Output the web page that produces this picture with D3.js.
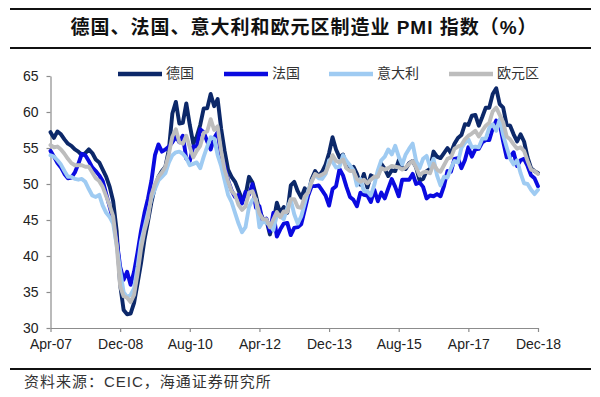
<!DOCTYPE html>
<html>
<head>
<meta charset="utf-8">
<script src="https://cdn.jsdelivr.net/npm/d3@7"></script>
<style>
  body { margin: 0; background: #fff; }
  svg { display: block; }
</style>
</head>
<body>
<svg id="chart" width="600" height="397"></svg>
<script>
// tick labels along the x axis, one every 20 months from Apr-07
const tickLabels = ['Apr-07', 'Dec-08', 'Aug-10', 'Apr-12', 'Dec-13', 'Aug-15', 'Apr-17', 'Dec-18'];
const yTicks = [30, 35, 40, 45, 50, 55, 60, 65];

// monthly PMI, Apr-07 .. Dec-18 (141 months)
const germany = [
  57.2,56.4,57.3,56.9,56.2,55.6,55.3,54.8,54.5,54.0,
  54.3,54.8,54.3,53.4,53.0,52.0,51.0,49.6,47.6,43.5,
  36.0,32.5,31.9,32.0,33.5,36.2,39.0,42.3,44.8,47.5,
  49.6,51.0,51.8,52.4,54.8,59.8,61.4,58.4,58.5,61.2,
  58.2,55.6,56.6,58.2,60.5,60.5,62.5,60.8,61.8,57.7,
  54.6,52.0,51.0,50.3,49.1,47.9,48.4,51.0,50.2,48.4,
  46.2,45.2,45.0,43.0,44.7,47.4,46.0,46.8,46.0,49.8,
  50.3,49.0,48.1,49.4,48.6,50.7,51.8,51.1,51.7,52.7,
  54.3,56.5,54.8,53.7,54.1,52.3,52.0,52.4,51.4,49.9,
  51.4,49.5,51.2,50.9,51.1,52.8,52.1,51.1,51.9,51.8,
  53.3,52.3,52.1,52.9,53.2,52.3,50.5,50.7,51.8,52.1,
  54.5,53.8,53.6,54.3,55.0,54.3,55.6,56.4,56.8,58.3,
  58.2,59.5,59.6,58.1,59.3,60.6,60.6,62.5,63.3,61.1,
  60.6,58.2,58.1,56.9,55.9,56.9,55.9,53.7,52.2,51.8,
  51.5
];
const france = [
  54.6,53.8,52.9,52.3,51.4,50.8,50.9,51.6,52.8,54.2,
  54.0,53.2,52.3,51.8,51.2,50.4,48.6,46.8,45.0,42.3,
  38.5,36.7,37.8,36.0,37.8,40.5,43.5,46.0,48.0,50.5,
  54.0,55.5,54.5,54.8,55.2,55.8,56.6,55.8,56.7,53.5,
  53.2,55.2,55.2,57.6,57.2,55.9,54.8,56.4,57.2,54.0,
  52.5,50.5,49.1,48.2,48.5,47.3,48.9,48.5,50.0,46.7,
  46.9,44.7,45.2,43.4,46.0,42.7,43.7,44.5,44.6,42.9,
  43.9,44.0,44.4,46.4,48.4,49.7,49.7,49.8,49.1,48.4,
  47.0,49.3,49.7,52.1,51.2,49.6,48.2,47.8,46.9,48.8,
  48.5,48.4,47.5,49.2,47.6,48.8,48.0,49.4,50.7,49.6,
  48.3,50.6,50.6,50.6,51.4,50.0,50.2,49.6,48.0,48.4,
  48.3,48.6,48.3,49.7,51.8,51.7,53.5,53.6,52.2,53.3,
  55.1,53.8,54.8,54.9,55.8,56.1,56.1,57.7,58.8,58.4,
  55.9,53.7,53.8,54.4,52.5,53.3,53.5,52.5,51.2,50.8,
  49.7
];
const italy = [
  54.0,53.8,53.3,52.7,51.8,51.0,51.0,50.7,50.6,50.7,
  50.3,49.3,48.4,48.2,48.5,47.0,46.0,45.4,44.5,41.5,
  38.0,35.0,34.3,34.6,35.5,38.5,42.0,44.0,46.0,48.0,
  49.3,50.5,51.0,51.5,53.0,54.0,54.4,54.5,54.2,53.6,
  52.6,52.8,53.0,52.2,53.8,55.2,56.5,56.3,54.0,52.5,
  50.5,48.5,47.5,46.0,44.5,43.3,44.0,46.8,47.8,47.9,
  44.0,44.8,44.6,44.3,43.6,45.7,45.5,45.1,46.7,47.8,
  45.8,44.5,45.5,47.3,49.1,50.4,51.3,50.8,50.7,51.4,
  53.3,53.1,52.3,52.4,54.0,53.2,52.6,51.9,49.8,50.7,
  49.0,49.0,48.4,49.9,51.9,53.3,53.8,54.8,54.1,55.3,
  53.8,52.7,54.1,54.9,55.6,53.2,52.2,53.5,53.9,52.4,
  53.5,51.2,49.8,51.0,50.9,52.2,53.2,53.0,55.0,55.7,
  56.2,55.1,55.2,55.1,56.3,56.3,57.8,58.3,57.4,59.0,
  56.8,55.1,53.5,52.7,53.3,51.5,50.1,50.0,49.2,48.6,
  49.2
];
const eurozone = [
  55.4,55.1,55.2,54.8,54.2,53.5,52.9,52.6,52.6,52.6,
  52.4,52.4,51.6,50.8,50.4,49.6,48.3,47.0,45.5,41.5,
  35.8,34.4,34.2,33.6,34.6,37.5,41.0,43.5,45.3,48.5,
  50.0,51.0,51.6,52.4,54.2,56.6,57.6,55.8,55.6,56.7,
  55.1,53.7,54.6,55.3,57.1,57.3,59.0,57.5,58.0,54.6,
  52.0,50.4,49.0,48.5,47.1,46.4,46.9,48.8,49.0,47.7,
  45.9,45.1,45.1,44.0,45.1,46.1,45.4,46.2,46.1,47.9,
  47.9,46.8,46.7,48.3,48.8,50.3,51.4,51.1,51.3,51.6,
  52.7,54.0,53.2,53.0,53.4,52.2,51.8,51.8,50.7,50.3,
  50.6,50.1,50.6,51.0,51.0,52.2,52.0,52.2,52.5,52.4,
  52.3,52.0,52.3,52.8,53.2,52.3,51.2,51.6,51.7,51.5,
  52.8,52.0,51.7,52.6,53.5,53.7,54.9,55.2,55.4,56.2,
  56.7,57.0,57.4,56.6,57.4,58.1,58.5,60.1,60.6,59.6,
  58.6,56.6,56.2,55.5,54.9,55.1,54.6,53.2,52.0,51.8,
  51.4
];

const seriesNames = ['德国', '法国', '意大利', '欧元区'];
const seriesColors = ['#0c2869', '#0a0ae0', '#9fcbf2', '#bdbdbd'];
const seriesValues = [germany, france, italy, eurozone];

const svg = d3.select('#chart');
const font = '"Liberation Sans", Arial, sans-serif';
// latin glyphs in Arial style, CJK falls through to Noto
const mixed = '"Liberation Sans", "Noto Sans CJK SC", sans-serif';
const cjk = '"Noto Sans CJK SC", sans-serif';

const plotLeft = 50.5, plotRight = 538, plotTop = 76, plotBottom = 328;

// title block with rules above and below
svg.append('line').attr('x1', 10).attr('x2', 591).attr('y1', 9).attr('y2', 9)
  .attr('stroke', '#111').attr('stroke-width', 2);
svg.append('line').attr('x1', 10).attr('x2', 591).attr('y1', 48).attr('y2', 48)
  .attr('stroke', '#111').attr('stroke-width', 2);
svg.append('text')
  .attr('x', 304).attr('y', 29)
  .attr('text-anchor', 'middle').attr('dominant-baseline', 'middle')
  .style('font-family', mixed).style('font-weight', 700).style('font-size', '19px')
  .style('letter-spacing', '1px').attr('fill', '#111')
  .text('德国、法国、意大利和欧元区制造业 PMI 指数（%）');

const x = d3.scaleLinear().domain([0, germany.length - 1]).range([plotLeft, plotRight]);
const y = d3.scaleLinear().domain([30, 65]).range([plotBottom, plotTop]);

const yAxis = svg.append('g')
  .attr('transform', `translate(${plotLeft},0)`)
  .call(d3.axisLeft(y).tickValues(yTicks).tickSize(4).tickSizeOuter(0).tickPadding(8));

const xAxis = svg.append('g')
  .attr('transform', `translate(0,${plotBottom})`)
  .call(d3.axisBottom(x)
    .tickValues(d3.range(0, germany.length, 20))
    .tickFormat((d, i) => tickLabels[i])
    .tickSize(4).tickSizeOuter(0).tickPadding(7));

[yAxis, xAxis].forEach(g => {
  g.select('.domain').attr('stroke', '#8c8c8c').attr('stroke-width', 1.2);
  g.selectAll('.tick line').attr('stroke', '#8c8c8c').attr('stroke-width', 1.2);
  g.selectAll('.tick text').attr('fill', '#222')
    .style('font-family', font).style('font-size', '14px');
});

const line = d3.line()
  .x((d, i) => x(i))
  .y(d => y(d));

seriesValues.forEach((vals, k) => {
  svg.append('path')
    .datum(vals)
    .attr('fill', 'none')
    .attr('stroke', seriesColors[k])
    .attr('stroke-width', 3.9)
    .attr('stroke-linejoin', 'round')
    .attr('stroke-linecap', 'round')
    .attr('d', line);
});

// legend
const legendX = [118, 224, 329, 449];
const legend = svg.append('g');
seriesNames.forEach((name, k) => {
  legend.append('line')
    .attr('x1', legendX[k]).attr('x2', legendX[k] + 44)
    .attr('y1', 74).attr('y2', 74)
    .attr('stroke', seriesColors[k]).attr('stroke-width', 4.5);
  legend.append('text')
    .attr('x', legendX[k] + 48).attr('y', 74)
    .attr('dominant-baseline', 'middle')
    .style('font-family', cjk).style('font-size', '14px')
    .attr('fill', '#333')
    .text(name);
});

// source note
svg.append('line').attr('x1', 10).attr('x2', 591).attr('y1', 369).attr('y2', 369)
  .attr('stroke', '#111').attr('stroke-width', 2);
svg.append('text')
  .attr('x', 24).attr('y', 383)
  .attr('dominant-baseline', 'middle')
  .style('font-family', mixed).style('font-size', '15px')
  .style('letter-spacing', '1px')
  .attr('fill', '#333')
  .text('资料来源：CEIC，海通证券研究所');
</script>
</body>
</html>
